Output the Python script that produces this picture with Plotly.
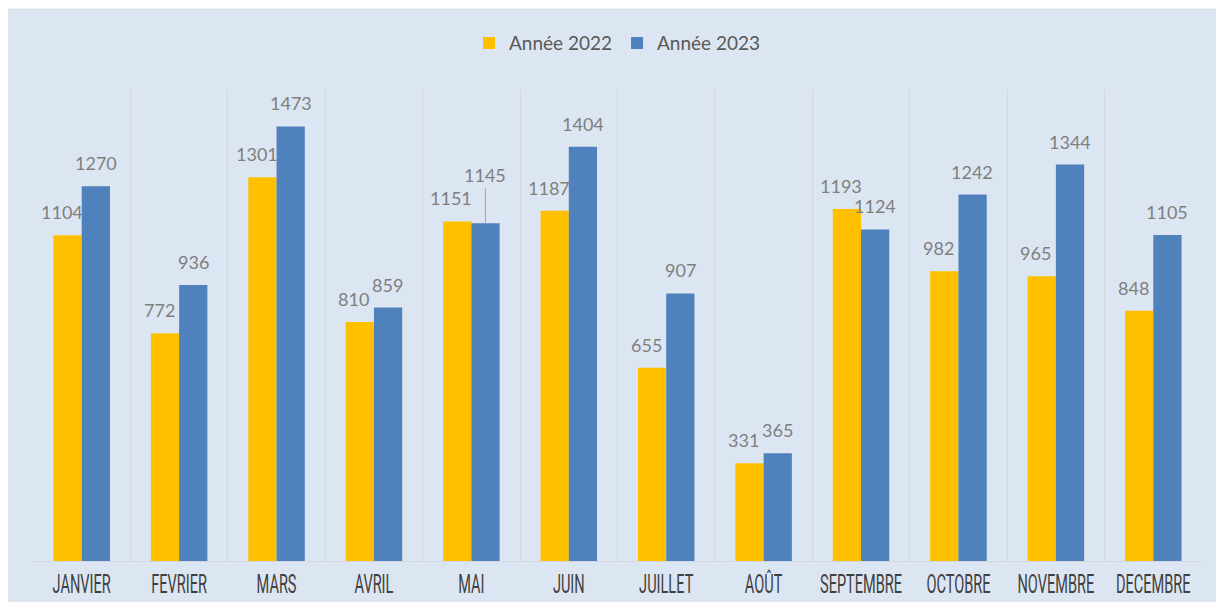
import plotly.graph_objects as go

mois = ["JANVIER", "FEVRIER", "MARS", "AVRIL", "MAI", "JUIN", "JUILLET",
        "AOÛT", "SEPTEMBRE", "OCTOBRE", "NOVEMBRE", "DECEMBRE"]
annee_2022 = [1104, 772, 1301, 810, 1151, 1187, 655, 331, 1193, 982, 965, 848]
annee_2023 = [1270, 936, 1473, 859, 1145, 1404, 907, 365, 1124, 1242, 1344, 1105]

series = [
    ("Année 2022", annee_2022, "#ffc000"),
    ("Année 2023", annee_2023, "#4f81bd"),
]

label_font = dict(family="Lato, 'Open Sans', sans-serif", size=18, color="#7f7f7f")

fig = go.Figure()
for name, vals, color in series:
    fig.add_trace(go.Bar(x=mois, y=vals, name=name, marker_color=color,
                         marker_line=dict(color=color, width=0)))

# data labels (Excel style, sitting above each bar)
half_bar = 14
for k, (name, vals, color) in enumerate(series):
    dx = -half_bar - 6 if k == 0 else half_bar
    for m, v in zip(mois, vals):
        if name == "Année 2023" and m == "MAI":
            # this one was dragged up in the original, with a leader line
            fig.add_annotation(x=m, y=v, text=str(v), xshift=dx, showarrow=True,
                               ax=0, ay=-48, arrowhead=0, arrowwidth=1, arrowcolor="#a6a6a6",
                               standoff=0, font=label_font)
        else:
            fig.add_annotation(x=m, y=v, text=str(v), xshift=dx, yshift=10,
                               yanchor="bottom", showarrow=False, font=label_font)

# light blue panel behind everything
fig.add_shape(type="rect", xref="paper", yref="paper",
              x0=-0.0222, x1=1.0154, y0=-0.085, y1=1.169,
              fillcolor="#dce6f2", line=dict(color="#d0d8e2", width=1), layer="below")

fig.update_layout(
    width=1216, height=596,
    margin=dict(l=25, r=22, t=81, b=43),
    paper_bgcolor="white",
    plot_bgcolor="rgba(0,0,0,0)",
    barmode="group",
    bargap=0.42,
    bargroupgap=0,
    showlegend=True,
    legend=dict(orientation="h", x=0.5, xanchor="center", y=1.097, yanchor="middle",
                font=dict(family="Lato, 'Open Sans', sans-serif", size=19, color="#595959"),
                bgcolor="rgba(0,0,0,0)", itemwidth=30),
    xaxis=dict(
        type="category", tickson="boundaries", showgrid=True, gridcolor="#d3d8de", gridwidth=1,
        showline=True, linecolor="#d3d8de", ticks="", tickangle=0, automargin=False,
        tickfont=dict(family="Roboto, sans-serif", size=26, color="#404040"),
    ),
    yaxis=dict(range=[0, 1600], showgrid=False, showticklabels=False, zeroline=False,
               fixedrange=True, automargin=False),
)

# the month names use a tall condensed face in the original; squeeze them horizontally
squeeze_js = """
var gd = document.getElementById('{plot_id}');
gd.querySelectorAll('.xtick text').forEach(function(t){
  var cx = parseFloat(t.getAttribute('x')) || 0;
  var base = t.getAttribute('transform') || '';
  t.setAttribute('transform', base + ' translate(' + cx + ',0) scale(0.56,1) translate(' + (-cx) + ',0)');
});
"""

fig.write_html("out.html", post_script=squeeze_js)
